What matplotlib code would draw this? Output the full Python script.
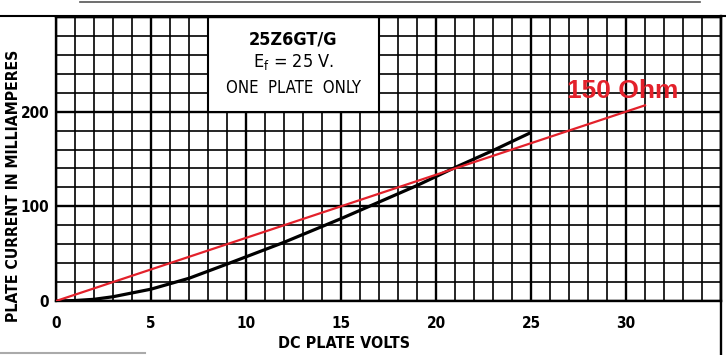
import os
import matplotlib
matplotlib.use("Agg")
import matplotlib.pyplot as plt
from matplotlib.patches import Rectangle
from matplotlib.lines import Line2D
from matplotlib import font_manager as fm

# ---- data ----
curve_v = [0, 1, 2, 3, 5, 7, 9, 12, 15, 19, 21, 23, 25]
curve_ma = [0, 0.5, 1.8, 4.5, 12.5, 24, 39, 62, 87, 122, 141, 159, 178]
load_v = [0, 31]
load_ma = [0, 206.7]
x_ticks = [0, 5, 10, 15, 20, 25, 30, 35]
x_labels = ["0", "5", "10", "15", "20", "25", "30", ""]
y_ticks = [0, 100, 200, 300]
y_labels = ["0", "100", "200", ""]
title_lines = ["25Z6GT/G", r"E$_\mathregular{f}$ = 25 V.", "ONE  PLATE  ONLY"]
load_label = "150 Ohm"


def find_font(names):
    files = {os.path.basename(f.fname): f.fname for f in fm.fontManager.ttflist}
    for n in names:
        if n in files:
            return files[n]
    return None


bold_file = find_font(["LiberationSansNarrow-Bold.ttf", "DejaVuSansCondensed-Bold.ttf",
                       "RobotoCondensed-Bold.ttf", "OpenSans_Condensed-Bold.ttf",
                       "OpenSans-CondBold.ttf"])
reg_file = find_font(["LiberationSansNarrow-Regular.ttf", "DejaVuSansCondensed.ttf",
                      "RobotoCondensed-Regular.ttf", "OpenSans_Condensed-Regular.ttf"])


def bold(size):
    if bold_file:
        return fm.FontProperties(fname=bold_file, size=size)
    return fm.FontProperties(family='DejaVu Sans', weight='bold', size=size * 0.88,
                             stretch='condensed')


def reg(size):
    if reg_file:
        return fm.FontProperties(fname=reg_file, size=size)
    return fm.FontProperties(family='DejaVu Sans', size=size * 0.88, stretch='condensed')


fig = plt.figure(figsize=(7.26, 3.55), dpi=100)
ax = fig.add_axes([56/726, 1-301/355, 665/726, 284/355])
ax.set_xlim(0, 35)
ax.set_ylim(0, 300)

ax.set_xticks(x_ticks)
ax.set_xticklabels(x_labels)
ax.set_xticks(range(0, 36), minor=True)
ax.set_yticks(y_ticks)
ax.set_yticklabels(y_labels)
ax.set_yticks(range(0, 301, 20), minor=True)
ax.tick_params(which='both', length=0)
ax.tick_params(axis='x', pad=11)
ax.tick_params(axis='y', pad=5)
for lab in ax.get_xticklabels() + ax.get_yticklabels():
    lab.set_fontproperties(bold(11))

ax.grid(which='minor', color='black', lw=1.2, zorder=0)
ax.grid(which='major', color='black', lw=1.7, zorder=0)
ax.set_axisbelow(True)
for s in ax.spines.values():
    s.set_linewidth(1.7)

# title box
ax.add_patch(Rectangle((8, 200), 9, 100, facecolor='white', edgecolor='black',
                       lw=1.5, zorder=2))
ax.text(12.5, 276, title_lines[0], ha='center', va='center',
        fontproperties=bold(13), zorder=3)
ax.text(12.5, 252, title_lines[1], ha='center', va='center',
        fontproperties=reg(13), zorder=3)
ax.text(12.5, 225, title_lines[2], ha='center', va='center',
        fontproperties=reg(12), zorder=3)

ax.plot(curve_v, curve_ma, color='black', lw=2.3, zorder=4, solid_capstyle='butt')
ax.plot(load_v, load_ma, color='#e3212b', lw=1.6, zorder=5)
ax.text(29.8, 222, load_label, color='#e3212b', ha='center', va='center',
        fontsize=19, fontweight='bold', family=['Liberation Sans', 'DejaVu Sans'],
        zorder=6)

fig.text(14/726, 1-186/355, "PLATE CURRENT IN MILLIAMPERES", rotation=90,
         ha='center', va='center', fontproperties=bold(11.3))
fig.text(344/726, 1-343/355, "DC PLATE VOLTS", ha='center', va='center',
         fontproperties=bold(11.5))

# frame decorations
fig.add_artist(Line2D([0, 1], [1-16/355, 1-16/355], color='black', lw=1.5,
                      transform=fig.transFigure))
fig.add_artist(Line2D([721/726, 721/726], [0, 1-16/355], color='black', lw=1.7,
                      transform=fig.transFigure))
fig.add_artist(Line2D([80/726, 700/726], [1-2/355, 1-2/355], color='#555555', lw=1.2,
                      transform=fig.transFigure))
fig.add_artist(Line2D([0, 145/726], [1-353/355, 1-353/355], color='#aaaaaa', lw=1.5,
                      transform=fig.transFigure))

fig.savefig("out.png", dpi=100)
